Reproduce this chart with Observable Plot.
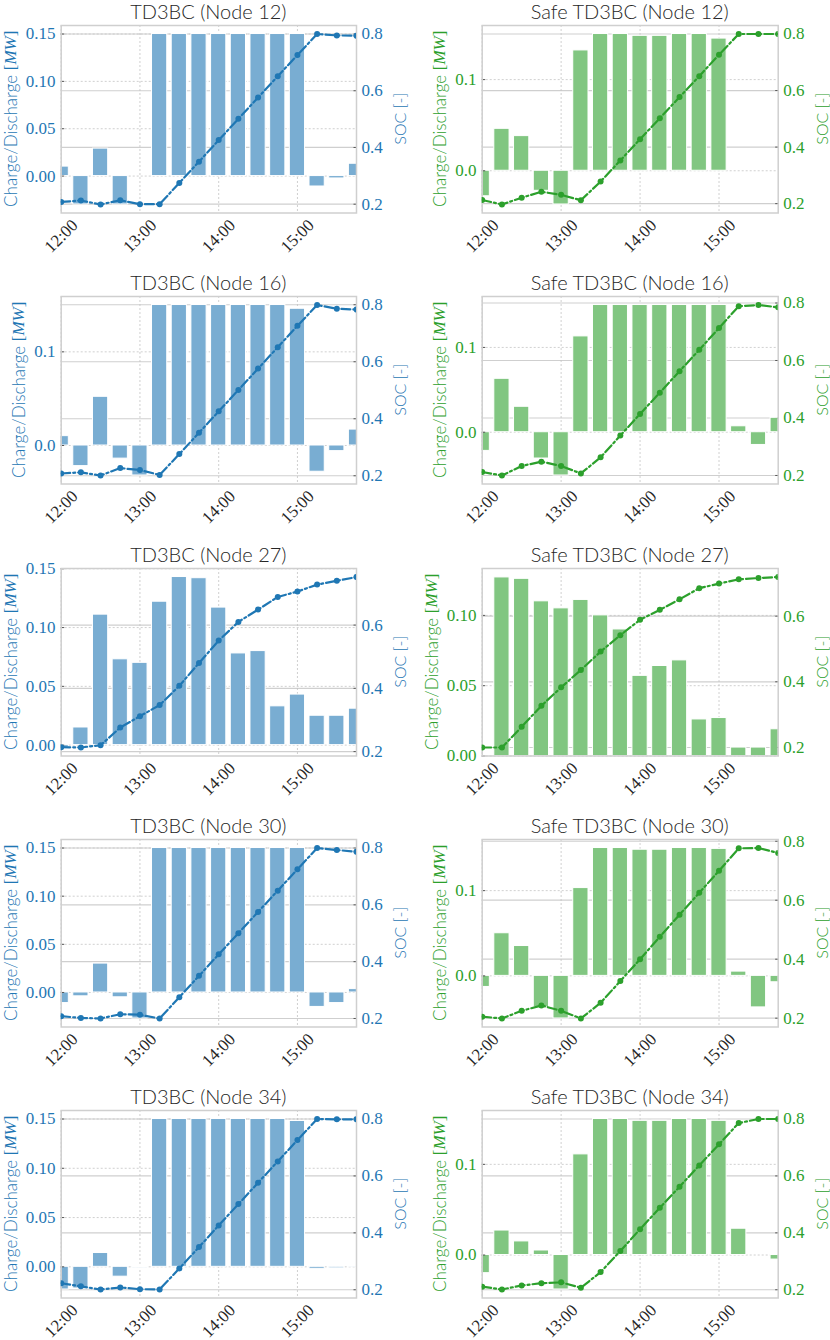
<!DOCTYPE html>
<html>
<head>
<meta charset="utf-8">
<script src="https://cdn.jsdelivr.net/npm/d3@7"></script>
<script src="https://cdn.jsdelivr.net/npm/@observablehq/plot@0.6"></script>
<style>
  body { margin: 0; background: #fff; }
  #fig { position: relative; width: 830px; height: 1340px; overflow: hidden; }
  .panel { position: absolute; width: 415px; }
  .panel svg { position: absolute; left: 0; top: 0; overflow: visible; }
</style>
</head>
<body>
<div id="fig"></div>
<script>
// ---------------- data ----------------
const times = ["12:00","12:15","12:30","12:45","13:00","13:15","13:30","13:45",
               "14:00","14:15","14:30","14:45","15:00","15:15","15:30","15:45"];
const hourTickLabels = ["12:00","13:00","14:00","15:00"];
const socTickLabels = ["0.2","0.4","0.6","0.8"];

// TD3BC (Node 12)
const td3bc_n12_power = [0.010,-0.030,0.029,-0.030,0.000,0.150,0.150,0.150,0.150,0.150,0.150,0.150,0.150,-0.011,-0.0025,0.013];
const td3bc_n12_soc   = [0.208,0.213,0.199,0.214,0.200,0.200,0.275,0.350,0.426,0.501,0.576,0.651,0.726,0.800,0.795,0.794];
const td3bc_n12_ticks = ["0.00","0.05","0.10","0.15"];
// Safe TD3BC (Node 12)
const safe_n12_power = [-0.028,0.046,0.038,-0.022,-0.037,0.132,0.150,0.150,0.148,0.148,0.150,0.150,0.145,0.000,0.000,0.000];
const safe_n12_soc   = [0.213,0.197,0.221,0.242,0.231,0.212,0.278,0.353,0.428,0.502,0.577,0.651,0.727,0.800,0.800,0.800];
const safe_n12_ticks = ["0.0","0.1"];
// TD3BC (Node 16)
const td3bc_n16_power = [0.010,-0.022,0.052,-0.014,-0.032,0.150,0.150,0.150,0.150,0.150,0.150,0.150,0.146,-0.028,-0.006,0.017];
const td3bc_n16_soc   = [0.208,0.212,0.201,0.227,0.220,0.203,0.276,0.351,0.426,0.501,0.576,0.651,0.726,0.799,0.786,0.783];
const td3bc_n16_ticks = ["0.0","0.1"];
// Safe TD3BC (Node 16)
const safe_n16_power = [-0.022,0.063,0.030,-0.031,-0.051,0.113,0.150,0.150,0.150,0.150,0.150,0.150,0.150,0.007,-0.015,0.017];
const safe_n16_soc   = [0.212,0.200,0.233,0.248,0.233,0.207,0.263,0.339,0.414,0.488,0.563,0.637,0.713,0.789,0.793,0.785];
const safe_n16_ticks = ["0.0","0.1"];
// TD3BC (Node 27)
const td3bc_n27_power = [-0.002,0.015,0.111,0.073,0.070,0.122,0.143,0.142,0.117,0.078,0.080,0.033,0.043,0.025,0.025,0.031];
const td3bc_n27_soc   = [0.214,0.213,0.220,0.276,0.312,0.347,0.408,0.480,0.551,0.610,0.649,0.689,0.706,0.728,0.740,0.752];
const td3bc_n27_ticks = ["0.00","0.05","0.10","0.15"];
// Safe TD3BC (Node 27)
const safe_n27_power = [0.000,0.127,0.126,0.110,0.105,0.111,0.100,0.090,0.057,0.064,0.068,0.026,0.027,0.006,0.006,0.019];
const safe_n27_soc   = [0.200,0.200,0.263,0.327,0.383,0.436,0.492,0.542,0.589,0.619,0.651,0.685,0.699,0.712,0.716,0.719];
const safe_n27_ticks = ["0.00","0.05","0.10"];
// TD3BC (Node 30)
const td3bc_n30_power = [-0.011,-0.004,0.030,-0.005,-0.027,0.150,0.150,0.150,0.150,0.150,0.150,0.150,0.150,-0.015,-0.011,0.0035];
const td3bc_n30_soc   = [0.208,0.202,0.200,0.215,0.213,0.200,0.275,0.350,0.426,0.500,0.575,0.650,0.725,0.800,0.793,0.787];
const td3bc_n30_ticks = ["0.00","0.05","0.10","0.15"];
// Safe TD3BC (Node 30)
const safe_n30_power = [-0.013,0.050,0.035,-0.037,-0.050,0.103,0.150,0.150,0.148,0.148,0.150,0.150,0.149,0.005,-0.037,-0.0075];
const safe_n30_soc   = [0.205,0.199,0.225,0.243,0.225,0.199,0.252,0.326,0.400,0.476,0.551,0.625,0.700,0.776,0.777,0.760];
const safe_n30_ticks = ["0.0","0.1"];
// TD3BC (Node 34)
const td3bc_n34_power = [-0.023,-0.022,0.014,-0.010,-0.001,0.150,0.150,0.150,0.150,0.150,0.150,0.150,0.148,-0.002,-0.0015,0.001];
const td3bc_n34_soc   = [0.223,0.212,0.201,0.208,0.202,0.201,0.275,0.350,0.426,0.501,0.576,0.651,0.726,0.800,0.799,0.799];
const td3bc_n34_ticks = ["0.00","0.05","0.10","0.15"];
// Safe TD3BC (Node 34)
const safe_n34_power = [-0.020,0.027,0.015,0.005,-0.038,0.111,0.150,0.150,0.148,0.148,0.150,0.150,0.148,0.029,0.000,-0.005];
const safe_n34_soc   = [0.211,0.201,0.215,0.223,0.226,0.207,0.262,0.336,0.413,0.488,0.562,0.637,0.711,0.786,0.800,0.800];
const safe_n34_ticks = ["0.0","0.1"];

// ---------------- styling / layout ----------------
const BLUE = "#1f77b4", GREEN = "#2ca02c";
const BLUE_BAR = "#79add2", GREEN_BAR = "#81c681";

const panels = [
  {title: "TD3BC (Node 12)",      color: BLUE,  bar: BLUE_BAR,  power: td3bc_n12_power, soc: td3bc_n12_soc, ticks: td3bc_n12_ticks},
  {title: "Safe TD3BC (Node 12)", color: GREEN, bar: GREEN_BAR, power: safe_n12_power,  soc: safe_n12_soc,  ticks: safe_n12_ticks},
  {title: "TD3BC (Node 16)",      color: BLUE,  bar: BLUE_BAR,  power: td3bc_n16_power, soc: td3bc_n16_soc, ticks: td3bc_n16_ticks},
  {title: "Safe TD3BC (Node 16)", color: GREEN, bar: GREEN_BAR, power: safe_n16_power,  soc: safe_n16_soc,  ticks: safe_n16_ticks},
  {title: "TD3BC (Node 27)",      color: BLUE,  bar: BLUE_BAR,  power: td3bc_n27_power, soc: td3bc_n27_soc, ticks: td3bc_n27_ticks},
  {title: "Safe TD3BC (Node 27)", color: GREEN, bar: GREEN_BAR, power: safe_n27_power,  soc: safe_n27_soc,  ticks: safe_n27_ticks},
  {title: "TD3BC (Node 30)",      color: BLUE,  bar: BLUE_BAR,  power: td3bc_n30_power, soc: td3bc_n30_soc, ticks: td3bc_n30_ticks},
  {title: "Safe TD3BC (Node 30)", color: GREEN, bar: GREEN_BAR, power: safe_n30_power,  soc: safe_n30_soc,  ticks: safe_n30_ticks},
  {title: "TD3BC (Node 34)",      color: BLUE,  bar: BLUE_BAR,  power: td3bc_n34_power, soc: td3bc_n34_soc, ticks: td3bc_n34_ticks},
  {title: "Safe TD3BC (Node 34)", color: GREEN, bar: GREEN_BAR, power: safe_n34_power,  soc: safe_n34_soc,  ticks: safe_n34_ticks},
];

const COLS = [{left: 0, ml: 60.7, mr: 59}, {left: 415, ml: 66.7, mr: 52.3}];
const ROW_H = 271.25, MT = 25, PLOT_H = 187.5, MB = ROW_H - MT - PLOT_H;
const BAR_HALF = 5.8 / 60; // hours
const SERIF = "'Liberation Serif', 'DejaVu Serif', serif";
const SANS = "Lato, 'DejaVu Sans', sans-serif";

const toHours = s => { const [h, m] = s.split(":").map(Number); return h + m / 60; };
const hourTicks = hourTickLabels.map(toHours);
const xDomain = [toHours(times[0]), toHours(times[times.length - 1])];

function padDomain(vals, sticky) {
  let lo = d3.min(vals), hi = d3.max(vals);
  if (sticky) { lo = Math.min(lo, 0); hi = Math.max(hi, 0); }
  const r = hi - lo;
  return [sticky && lo === 0 ? 0 : lo - 0.05 * r, sticky && hi === 0 ? 0 : hi + 0.05 * r];
}

const fig = document.getElementById("fig");

panels.forEach((p, i) => {
  const row = Math.floor(i / 2), c = COLS[i % 2];
  const div = document.createElement("div");
  div.className = "panel";
  div.style.left = c.left + "px";
  div.style.top = (row * ROW_H) + "px";
  div.style.height = ROW_H + "px";
  fig.appendChild(div);

  const rows = times.map((t, k) => ({h: toHours(t), p: p.power[k], s: p.soc[k]}));
  const pDom = padDomain(p.power, true);
  const sDom = padDomain(p.soc, false);
  const pTicks = p.ticks.map(Number);
  const sTicks = socTickLabels.map(Number).filter(v => v >= sDom[0] && v <= sDom[1]);

  const common = {
    width: 415, height: ROW_H,
    marginLeft: c.ml, marginRight: c.mr, marginTop: MT, marginBottom: MB,
    style: {background: "transparent", fontFamily: SERIF, fontSize: "17px", color: p.color, overflow: "visible"}
  };

  // Layer B: SOC grid + right axis
  const layerB = Plot.plot({
    ...common,
    x: {type: "linear", domain: xDomain, axis: null},
    y: {domain: sDom},
    marks: [
      Plot.gridY(sTicks, {stroke: "#cfcfcf", strokeOpacity: 1, strokeWidth: 1.2}),
      Plot.axisY(sTicks, {anchor: "right", tickSize: -3.5, stroke: "#555", tickPadding: 8.5,
                          tickFormat: d => socTickLabels.find(s => +s === d), label: null, fill: p.color})
    ]
  });

  // Layer A: power bars + left axis + x axis + frame
  const layerA = Plot.plot({
    ...common,
    x: {type: "linear", domain: xDomain},
    y: {domain: pDom},
    marks: [
      Plot.gridX(hourTicks, {stroke: "#c4c4c4", strokeOpacity: 1, strokeDasharray: "2,2", strokeWidth: 0.8}),
      Plot.gridY(pTicks, {stroke: "#c4c4c4", strokeOpacity: 1, strokeDasharray: "2,2", strokeWidth: 0.8}),
      Plot.rect(rows, {x1: d => d.h - BAR_HALF, x2: d => d.h + BAR_HALF, y1: () => 0, y2: "p",
                       fill: p.bar, stroke: "white", strokeWidth: 1, clip: true}),
      Plot.axisY(pTicks, {anchor: "left", tickSize: -3.5, stroke: "#555", tickPadding: 9.2,
                          tickFormat: d => p.ticks[pTicks.indexOf(d)], label: null, fill: p.color}),
      Plot.axisX(hourTicks, {anchor: "bottom", tickSize: 0, tickRotate: -45, textAnchor: "middle",
                             lineAnchor: "middle", tickPadding: 23, fill: "#262626",
                             tickFormat: d => hourTickLabels[hourTicks.indexOf(d)], label: null}),
      Plot.frame({stroke: "#cfcfcf", strokeWidth: 1.5})
    ]
  });

  // Layer C: SOC line
  const layerC = Plot.plot({
    ...common,
    x: {type: "linear", domain: xDomain, axis: null},
    y: {domain: sDom, axis: null},
    marks: [
      Plot.line(rows, {x: "h", y: "s", stroke: p.color, strokeWidth: 2.2, strokeDasharray: "9,3,2,3", clip: true}),
      Plot.dot(rows, {x: "h", y: "s", r: 3, fill: p.color, stroke: "none", clip: true})
    ]
  });

  div.appendChild(layerB);
  div.appendChild(layerA);
  div.appendChild(layerC);

  // titles & axis labels
  const svgA = d3.select(layerA);
  const frameCx = c.ml + (415 - c.ml - c.mr) / 2;
  const frameCy = MT + PLOT_H / 2;
  svgA.append("text")
    .attr("x", frameCx).attr("y", 18.5)
    .attr("text-anchor", "middle")
    .attr("font-family", SANS).attr("font-size", 20).attr("font-weight", 300).attr("fill", "#262626")
    .text(p.title);

  const divRect = div.getBoundingClientRect();
  const leftLabels = layerA.querySelectorAll('[aria-label="y-axis tick label"] text');
  let minX = Infinity;
  leftLabels.forEach(t => { minX = Math.min(minX, t.getBoundingClientRect().left - divRect.left); });
  const lx = minX - 16;
  const lab = svgA.append("text")
    .attr("transform", `translate(${lx},${frameCy}) rotate(-90)`)
    .attr("text-anchor", "middle").attr("dominant-baseline", "central")
    .attr("font-family", SANS).attr("font-size", 17).attr("font-weight", 300).attr("fill", p.color);
  lab.append("tspan").text("Charge/Discharge ");
  lab.append("tspan").attr("font-family", SERIF).text("[");
  lab.append("tspan").attr("font-family", SERIF).attr("font-style", "italic").text("MW");
  lab.append("tspan").attr("font-family", SERIF).text("]");

  const rightLabels = layerB.querySelectorAll('[aria-label="y-axis tick label"] text');
  let maxX = -Infinity;
  rightLabels.forEach(t => { maxX = Math.max(maxX, t.getBoundingClientRect().right - divRect.left); });
  const rx = maxX + 16.5;
  d3.select(layerB).append("text")
    .attr("transform", `translate(${rx},${frameCy}) rotate(-90)`)
    .attr("text-anchor", "middle").attr("dominant-baseline", "central")
    .attr("font-family", SANS).attr("font-size", 16).attr("font-weight", 300).attr("fill", p.color)
    .text("SOC [-]");
});
</script>
</body>
</html>
